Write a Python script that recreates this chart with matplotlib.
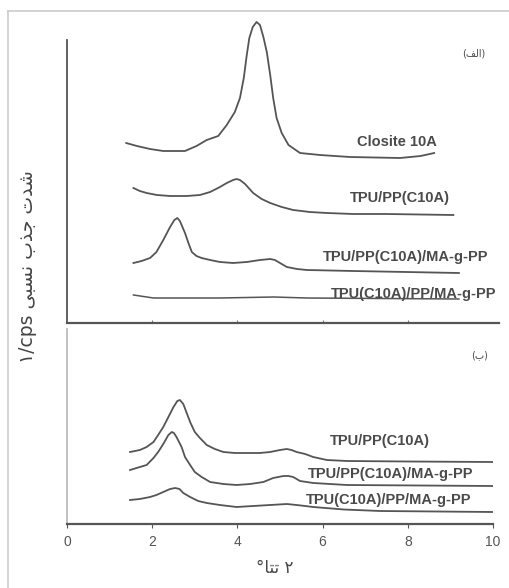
import matplotlib.pyplot as plt
from matplotlib.lines import Line2D

# 2-theta (deg) and relative intensity for the upper panel
closite_x = [1.39, 1.64, 1.95, 2.26, 2.77, 3.04, 3.28, 3.55, 3.75, 3.94, 4.06, 4.15, 4.22, 4.28, 4.36,
             4.45, 4.53, 4.61, 4.69, 4.77, 4.84, 4.92, 5.04, 5.2, 5.47, 5.94, 6.64, 7.82, 8.3, 8.62]
closite_y = [180, 177, 174, 172, 172, 177, 183, 187, 198, 211, 225, 245, 268, 285, 296,
             301, 298, 286, 271, 248, 225, 205, 190, 178, 170, 168, 166, 165, 167, 170]

tpu_pp_x = [1.56, 1.71, 1.87, 2.11, 2.42, 2.81, 3.12, 3.36, 3.59, 3.75, 3.9, 3.98, 4.06, 4.18,
            4.37, 4.57, 4.77, 5.04, 5.31, 5.7, 6.1, 6.72, 7.5, 9.07]
tpu_pp_y = [135, 132, 130, 128, 127, 127, 128, 131, 136, 140, 143, 144, 143, 139,
            130, 124, 120, 116, 113, 111, 110, 109, 109, 108]

tpu_pp_ma_x = [1.56, 1.75, 1.95, 2.1, 2.26, 2.42, 2.52, 2.59, 2.65, 2.77, 2.85, 2.93, 3.04, 3.16,
               3.36, 3.59, 3.9, 4.22, 4.53, 4.77, 4.88, 5.0, 5.16, 5.4, 5.63, 6.72, 9.2]
tpu_pp_ma_y = [60, 62, 65, 71, 83, 96, 103, 105, 102, 90, 80, 71, 67, 65,
               63, 61, 60, 61, 63, 64, 63, 60, 56, 54, 53, 52, 50]

tpu_c_pp_ma_x = [1.56, 2.03, 3.59, 4.85, 5.63, 9.2]
tpu_c_pp_ma_y = [28, 25, 25, 26, 25, 24]

# lower panel
b_tpu_pp_x = [1.48, 1.71, 1.87, 2.03, 2.14, 2.26, 2.38, 2.5, 2.59, 2.65, 2.73, 2.81, 2.9, 3.0,
              3.12, 3.28, 3.47, 3.67, 3.94, 4.22, 4.53, 4.77, 5.0, 5.16, 5.27, 5.39, 5.59, 5.78,
              6.1, 6.57, 8.0, 10.0]
b_tpu_pp_y = [72, 74, 77, 82, 89, 97, 107, 117, 123, 124, 120, 111, 101, 92,
              86, 79, 75, 72, 71, 71, 71, 72, 74, 75, 74, 72, 70, 67,
              64, 63, 62.5, 62]

b_tpu_pp_ma_x = [1.48, 1.71, 1.87, 2.03, 2.14, 2.26, 2.38, 2.46, 2.51, 2.57, 2.69, 2.77, 2.89, 3.0,
                 3.16, 3.36, 3.67, 3.98, 4.3, 4.61, 4.84, 5.08, 5.2, 5.31, 5.47, 5.78, 6.57, 10.0]
b_tpu_pp_ma_y = [54, 57, 59, 66, 72, 80, 89, 92, 91, 87, 77, 67, 59, 52,
                 47, 42, 40, 39, 40, 42, 46, 48, 48, 47, 43, 41, 39, 38]

b_tpu_c_pp_ma_x = [1.48, 1.71, 1.95, 2.1, 2.26, 2.42, 2.54, 2.64, 2.73, 2.89, 3.08, 3.28, 3.59,
                   3.98, 4.37, 4.77, 5.16, 5.39, 5.59, 5.78, 6.5, 7.35, 10.0]
b_tpu_c_pp_ma_y = [24, 25, 27, 29, 32, 35, 36, 35, 31, 27, 23, 21, 19,
                   17, 18, 19, 20, 19, 18, 17, 14.5, 13, 12]

xticks = [0, 2, 4, 6, 8, 10]
xtick_labels = ["0", "2", "4", "6", "8", "10"]

# Persian strings in visual order (presentation forms)
ylabel = "\u06f1/cps \ufef0\ufe92\ufeb4\ufee7 \ufe8f\ufeac\ufe9f \ufe95\ufeaa\ufeb7"
xlabel = "\u00b0\ufe8e\ufe98\ufe97 \u06f2"
tag_a = "(\ufed2\ufedf\ufe8d)"
tag_b = "(\ufe8f)"

line_c = "#555555"
text_c = "#4a4a4a"
W, H = 509, 588

fig = plt.figure(figsize=(W / 100, H / 100), dpi=100)

ax1 = fig.add_axes([67 / W, (H - 323) / H, (493 - 67) / W, (323 - 15) / H])
ax2 = fig.add_axes([67 / W, (H - 524) / H, (493 - 67) / W, (524 - 329) / H])

for ax in (ax1, ax2):
    ax.set_xlim(0, 10)
    for s in ("top", "right"):
        ax.spines[s].set_visible(False)
    ax.set_yticks([])
    ax.patch.set_alpha(0)

ax1.set_ylim(0, 308)
ax2.set_ylim(0, 195)

ax1.plot(closite_x, closite_y, color=line_c, lw=1.3)
ax1.plot(tpu_pp_x, tpu_pp_y, color=line_c, lw=1.3)
ax1.plot(tpu_pp_ma_x, tpu_pp_ma_y, color=line_c, lw=1.3)
ax1.plot(tpu_c_pp_ma_x, tpu_c_pp_ma_y, color=line_c, lw=1.1)

ax2.plot(b_tpu_pp_x, b_tpu_pp_y, color=line_c, lw=1.3)
ax2.plot(b_tpu_pp_ma_x, b_tpu_pp_ma_y, color=line_c, lw=1.3)
ax2.plot(b_tpu_c_pp_ma_x, b_tpu_c_pp_ma_y, color=line_c, lw=1.3)

# spines
ax1.spines["left"].set_bounds(0, 283)
ax1.spines["left"].set_color("#555555")
ax1.spines["left"].set_linewidth(1.3)
ax1.spines["bottom"].set_bounds(0, 10.15)
ax1.spines["bottom"].set_color("#555555")
ax1.spines["bottom"].set_linewidth(1.6)
ax1.set_xticks(xticks[1:-1])
ax1.tick_params(axis="x", direction="in", length=2, color="#777777", labelbottom=False)

ax2.spines["left"].set_color("#bbbbbb")
ax2.spines["left"].set_linewidth(1.3)
ax2.spines["bottom"].set_color("#555555")
ax2.spines["bottom"].set_linewidth(1.6)
ax2.set_xticks(xticks)
ax2.set_xticklabels(xtick_labels, fontfamily="Liberation Sans", fontsize=10, color="#555555")
ax2.tick_params(axis="x", direction="out", length=3, color="#555555", pad=5)

lab = dict(fontfamily="Liberation Sans", fontsize=10.5, fontweight="bold", color=text_c)
ax1.text(8.69, 181, "Closite 10A", ha="right", va="center", **lab)
ax1.text(8.99, 125, "TPU/PP(C10A)", ha="right", va="center", **lab)
ax1.text(9.88, 66, "TPU/PP(C10A)/MA-g-PP", ha="right", va="center", **lab)
ax1.text(10.09, 29, "TPU(C10A)/PP/MA-g-PP", ha="right", va="center", **lab)
ax1.text(9.55, 270, tag_a, ha="center", va="center", fontfamily="DejaVu Sans", fontsize=7, color=text_c)

ax2.text(8.52, 83, "TPU/PP(C10A)", ha="right", va="center", **lab)
ax2.text(9.53, 50, "TPU/PP(C10A)/MA-g-PP", ha="right", va="center", **lab)
ax2.text(9.5, 24, "TPU(C10A)/PP/MA-g-PP", ha="right", va="center", **lab)
ax2.text(9.69, 169, tag_b, ha="center", va="center", fontfamily="DejaVu Sans", fontsize=7, color=text_c)

fig.text(28 / W, 1 - 267 / H, ylabel, rotation=90, ha="center", va="center",
         fontfamily="DejaVu Sans", fontsize=13.5, color="#444444")
fig.text(275 / W, 1 - 568 / H, xlabel, ha="center", va="center",
         fontfamily="DejaVu Sans", fontsize=12, color="#444444")

# thin outer frame on the left and top
fig.add_artist(Line2D([8 / W, 8 / W], [0, 1 - 11 / H], transform=fig.transFigure, color="#cccccc", lw=1.2))
fig.add_artist(Line2D([8 / W, 1], [1 - 11 / H, 1 - 11 / H], transform=fig.transFigure, color="#cccccc", lw=1.2))

fig.savefig("out.png", dpi=100)
